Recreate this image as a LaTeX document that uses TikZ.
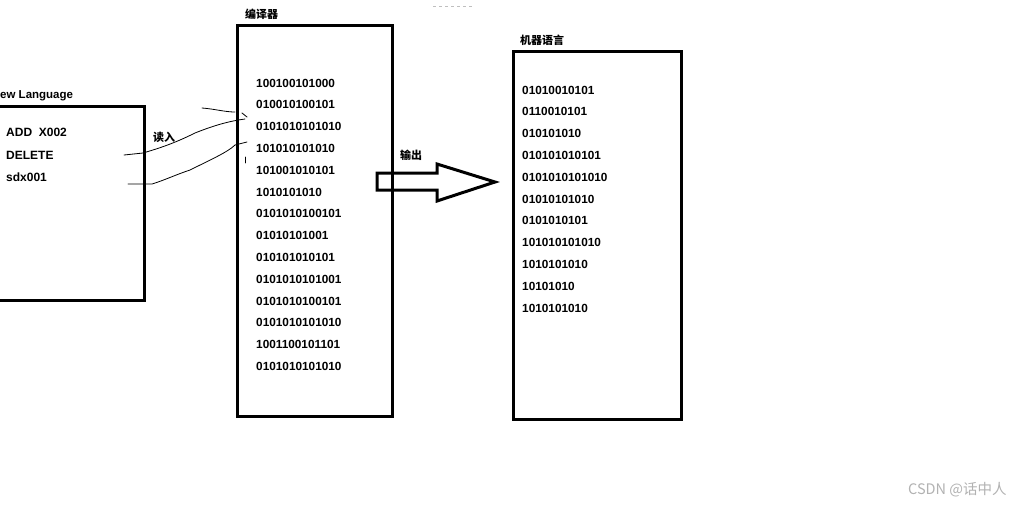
\documentclass[tikz,border=0pt]{standalone}
\usepackage{fontspec}
\setmainfont{Liberation Sans}
\newfontfamily\cjk{Noto Sans CJK SC}
\begin{document}
\begin{tikzpicture}[x=1pt,y=-1pt,
  box/.style={draw, line width=3pt, inner sep=0pt, anchor=north west},
  code/.style={font=\bfseries\fontsize{12}{14}\selectfont, anchor=west, inner sep=0pt},
  bin/.style={font=\bfseries\fontsize{11.8}{14}\selectfont, anchor=west, inner sep=0pt},
  lbl/.style={font=\cjk\bfseries\fontsize{11}{13}\selectfont, anchor=west, inner sep=0pt},
  hand/.style={line width=0.8pt, line cap=round, line join=round}]
\useasboundingbox (0,0) rectangle (1024,507);
\clip (0,0) rectangle (1024,507);
\fill[white] (0,0) rectangle (1024,507);

% boxes
\node[box, minimum width=158pt, minimum height=194pt] (src) at (-15,105) {};
\node[box, minimum width=155pt, minimum height=391pt] (comp) at (236,24) {};
\node[box, minimum width=168pt, minimum height=368pt] (mach) at (512,50) {};

% titles
\node[code, font=\bfseries\fontsize{11.5}{13}\selectfont] (srct) at (0,96) {ew Language};
\node[lbl] (compt) at (245,14) {编译器};
\node[lbl] (macht) at (520,40) {机器语言};
\node[lbl] (readl) at (153,137) {读入};
\node[lbl] (outl) at (400,155) {输出};

% source code
\node[code] (c1) at (6,132) {ADD\ \ X002};
\node[code] (c2) at (6,155) {DELETE};
\node[code] (c3) at (6,177) {sdx001};

% compiler binaries
\foreach \t [count=\i from 0] in {100100101000,010010100101,0101010101010,101010101010,101001010101,1010101010,0101010100101,01010101001,010101010101,0101010101001,0101010100101,0101010101010,1001100101101,0101010101010}
  \node[bin] (b\i) at (256,{83+21.8*\i}) {\t};

% machine binaries
\foreach \t [count=\i from 0] in {01010010101,0110010101,010101010,010101010101,0101010101010,01010101010,0101010101,101010101010,1010101010,10101010,1010101010}
  \node[bin] (m\i) at (522,{90+21.8*\i}) {\t};

% hand-drawn read lines
\coordinate (h1a) at (202,108);
\coordinate (h1b) at (235,112);
\draw[hand] (h1a) .. controls (215,109) and (225,112) .. (h1b);
\coordinate (h2a) at (124,155);
\coordinate (h2b) at (245,119);
\draw[hand] (h2a) -- (143,153) .. controls (160,148) and (175,143) .. (195,133) .. controls (215,125) and (230,121) .. (h2b);
\coordinate (h3a) at (128,184);
\coordinate (h3b) at (247,142);
\draw[hand] (h3a) -- (152,184) .. controls (165,180) and (175,175) .. (190,170) .. controls (210,160) and (228,152) .. (235,145) -- (h3b);
\draw[hand] (242,113) -- (247,117);
\draw[hand] (245,157) -- (245,163);

% output arrow
\coordinate (a0) at (377,173);
\draw[line width=3pt, line join=miter] (a0) -- (437,173) -- (437,164) -- (495,182) -- (437,201) -- (437,190) -- (377,190) -- cycle;

% faint mark at top
\draw[gray!50, line width=1pt, dash pattern=on 3pt off 3pt] (433,6) -- (472,6);

% watermark
\node[font=\cjk\fontsize{14.5}{16}\selectfont, text=gray!60, anchor=west, inner sep=0pt] (wm) at (908,490) {CSDN @话中人};
\end{tikzpicture}
\end{document}
